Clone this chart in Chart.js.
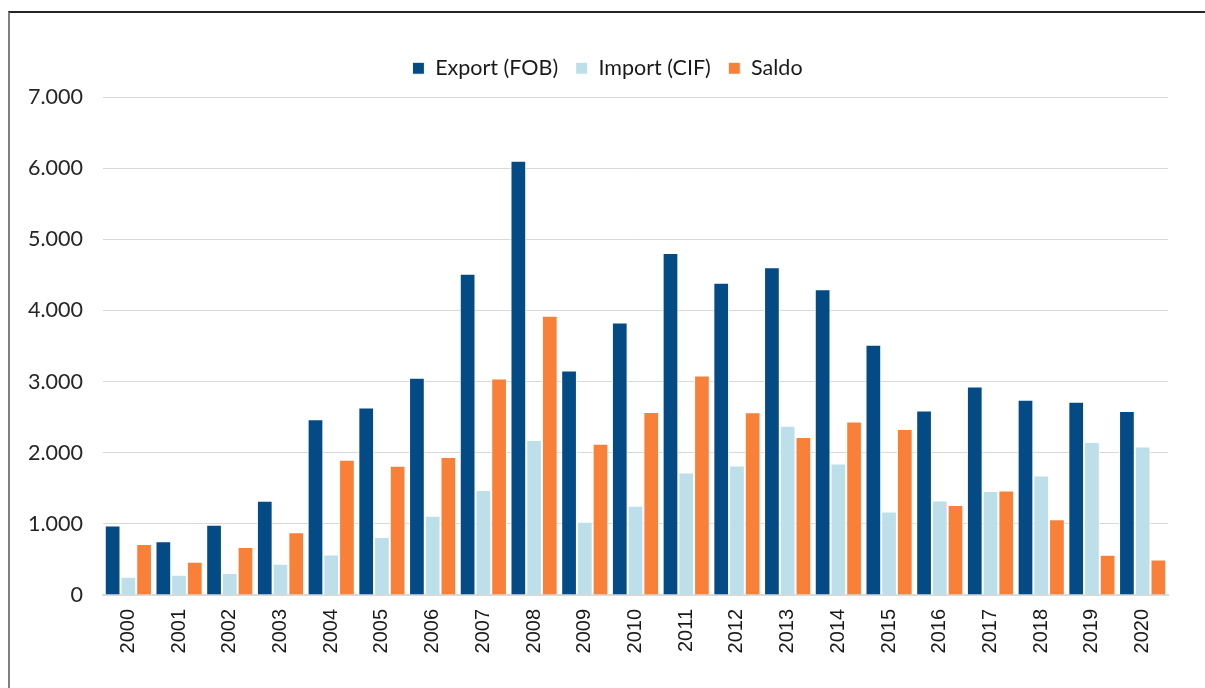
<!DOCTYPE html>
<html lang="de">
  <head>
    <meta charset="UTF-8" />
    <title>Export / Import / Saldo</title>
    <script src="https://cdn.jsdelivr.net/npm/chart.js@4.4.1/dist/chart.umd.min.js"></script>
    <style>
      html, body { margin: 0; padding: 0; background: #fff; overflow: hidden; }
      #frame {
        position: absolute;
        left: 8px;
        top: 11px;
        width: 1195px;
        height: 675px;
        border-left: 2px solid #808080;
        border-top: 2px solid #262626;
      }
      #chart-holder { position: relative; width: 1195px; height: 675px; }
    </style>
  </head>
  <body>
    <div id="frame">
      <div id="chart-holder">
        <canvas id="myChart"></canvas>
      </div>
    </div>

    <script>
      // data
      var years = ["2000", "2001", "2002", "2003", "2004", "2005", "2006", "2007", "2008", "2009", "2010",
                   "2011", "2012", "2013", "2014", "2015", "2016", "2017", "2018", "2019", "2020"];
      var exportFob = [976, 755, 986, 1324, 2470, 2634, 3052, 4517, 6103, 3155, 3830,
                       4807, 4390, 4606, 4296, 3517, 2592, 2930, 2746, 2718, 2587];
      var importCif = [258, 286, 310, 441, 568, 817, 1113, 1475, 2179, 1028, 1254,
                       1723, 1821, 2380, 1849, 1173, 1328, 1461, 1680, 2151, 2087];
      var saldo = [718, 469, 676, 883, 1901, 1817, 1939, 3042, 3924, 2127, 2573,
                   3084, 2569, 2220, 2437, 2334, 1264, 1469, 1066, 567, 500];

      function formatDe(v) {
        return String(v).replace(/\B(?=(\d{3})+(?!\d))/g, ".");
      }

      // a bit more room between the legend and the plot
      var legendGap = {
        id: "legendGap",
        beforeInit: function (chart) {
          if (!chart.legend) return;
          var fit = chart.legend.fit;
          chart.legend.fit = function () {
            fit.bind(chart.legend)();
            this.height += 8;
          };
        },
      };

      var ctx = document.getElementById("myChart").getContext("2d");
      var myChart = new Chart(ctx, {
        type: "bar",
        data: {
          labels: years,
          datasets: [
            { label: "Export (FOB)", data: exportFob, backgroundColor: "#044a84" },
            { label: "Import (CIF)", data: importCif, backgroundColor: "#bddfea" },
            { label: "Saldo", data: saldo, backgroundColor: "#f98039" },
          ],
        },
        options: {
          responsive: true,
          maintainAspectRatio: false,
          animation: false,
          datasets: {
            bar: {
              barPercentage: 1,
              categoryPercentage: 0.93,
              borderWidth: 1,
              borderColor: "#ffffff",
            },
          },
          layout: { padding: { top: 27, right: 0, bottom: 0, left: 0 } },
          plugins: {
            tooltip: { enabled: false },
            legend: {
              position: "top",
              labels: {
                boxWidth: 12,
                boxHeight: 12,
                padding: 17.5,
                color: "#1a1a1a",
                font: { family: "Lato", size: 21.5 },
              },
            },
          },
          scales: {
            x: {
              grid: { display: false, drawTicks: false },
              border: { display: true, color: "#d9d9d9", width: 2 },
              ticks: {
                minRotation: 90,
                maxRotation: 90,
                padding: 14,
                color: "#1a1a1a",
                font: { family: "Liberation Sans", size: 20 },
              },
              afterFit: function (scale) { scale.height = 93; },
            },
            y: {
              min: 0,
              max: 7000,
              grid: { color: "#d9d9d9", lineWidth: 1, drawTicks: false },
              border: { display: false },
              ticks: {
                stepSize: 1000,
                padding: 20,
                color: "#262626",
                font: { family: "Lato", size: 21.5, lineHeight: 0.77 },
                callback: function (v) { return formatDe(v); },
              },
              afterFit: function (scale) { scale.width = 93; },
            },
            // empty right-hand strip so the legend stays centred on the whole frame
            spacer: {
              position: "right",
              display: true,
              grid: { display: false, drawTicks: false },
              border: { display: false },
              ticks: { display: false },
              afterFit: function (scale) { scale.width = 37; },
            },
          },
        },
        plugins: [legendGap],
      });
    </script>
  </body>
</html>
